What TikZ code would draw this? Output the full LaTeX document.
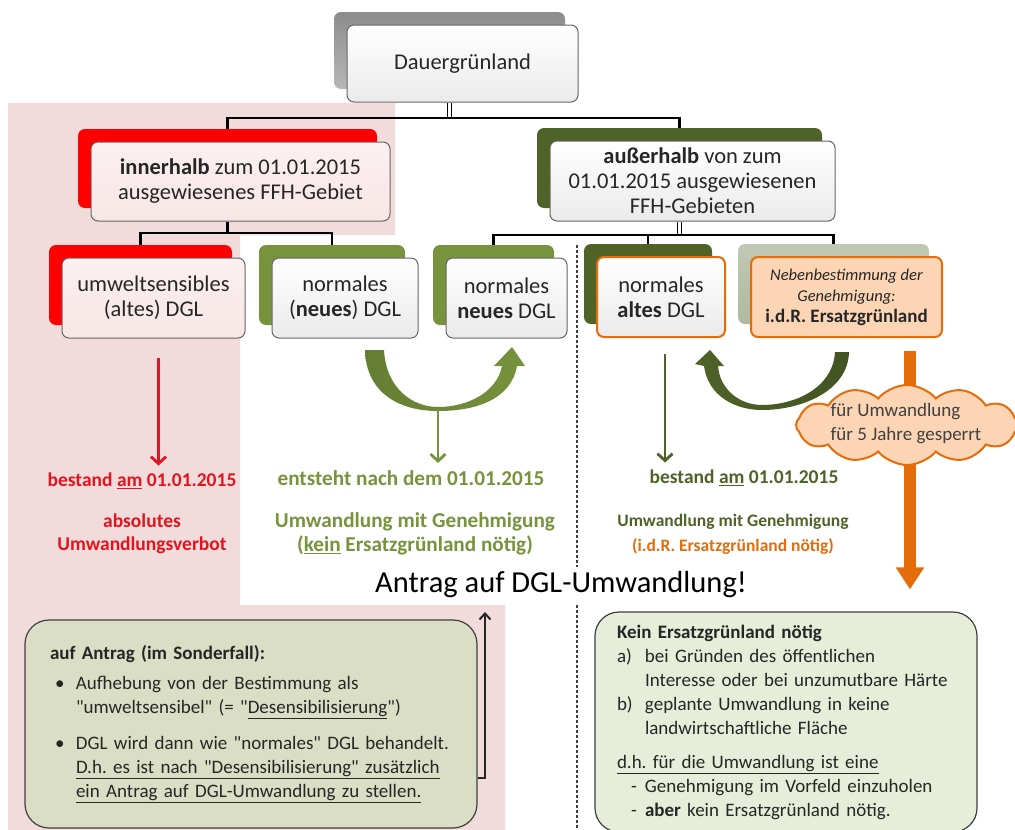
\documentclass[tikz,border=0pt]{standalone}
\usepackage{fontspec}
\setmainfont{Carlito}[Ligatures=TeXOff]
\usepackage{tikz}
\usetikzlibrary{arrows.meta,positioning,shapes.symbols}

\definecolor{pinkbg}{HTML}{F2DCDB}
\definecolor{frontpink}{HTML}{F8E6E6}
\definecolor{redC}{HTML}{FF0000}
\definecolor{redtext}{HTML}{E3141E}
\definecolor{oliveD}{HTML}{4F6228}
\definecolor{oliveL}{HTML}{77933C}
\definecolor{greyG}{HTML}{B1B9A0}
\definecolor{orangeC}{HTML}{E46C0A}
\definecolor{orangeL}{HTML}{FCD5B5}
\definecolor{noteL}{HTML}{D9DEC4}
\definecolor{noteR}{HTML}{E6EDD9}

\newcommand{\boxfont}{\fontsize{22.5}{25}\selectfont}
\newcommand{\lblfont}{\fontsize{19.5}{23}\selectfont}
\newcommand{\glblfont}{\fontsize{21.2}{24}\selectfont}
\newcommand{\rlblfont}{\fontsize{17.5}{23}\selectfont}
\newcommand{\nebenfont}{\fontsize{16.5}{21}\selectfont}
\newcommand{\notefont}{\fontsize{19}{24}\selectfont}
\newcommand{\cloudfont}{\fontsize{19}{24}\selectfont}
\newcommand{\antragfont}{\fontsize{30.5}{34}\selectfont}
\frenchspacing

\begin{document}
\begin{tikzpicture}[x=1pt, y=-1pt,
    sz/.style 2 args={minimum width=#1pt, minimum height=#2pt},
    backbox/.style={rounded corners=7pt, inner sep=0pt},
    frontbox/.style={rounded corners=7pt, draw=black!60, line width=1pt, top color=white, bottom color=black!8, align=center, inner sep=0pt, font=\boxfont, text=black!85},
    pinkbox/.style={frontbox, top color=white!40!frontpink, bottom color=frontpink},
    conn/.style={line width=2.6pt, draw=black},
    stub/.style={line width=1.3pt, draw=black, double=white, double distance=2.2pt, shorten >=1.3pt},
    note/.style={rounded corners=24pt, draw=black!75, line width=1.2pt, align=left, inner sep=0pt, font=\notefont, text=black!85},
    lbl/.style={font=\lblfont\bfseries, align=center},
    thinarr/.style={line width=2.8pt, -{Straight Barb[length=7pt, width=15pt]}},
    orangearr/.style={line width=12pt, draw=orangeC, -{Triangle[length=22pt, width=27pt]}},
    backarr/.style={line width=2pt, draw=black!85, -{Straight Barb[length=6pt, width=11pt]}}
]
\useasboundingbox (0,0) rectangle (1015,830);
\clip (0,0) rectangle (1015,830);
\fill[white] (0,0) rectangle (1015,830);
\fill[pinkbg] (8,103) -| (395,235) -| (240,605) -| (505,830) -- (8,830) -- cycle;

\node[backbox, top color=black!45, bottom color=black!28, sz={231}{77}] (dauerS) at (449.5,50.5) {};
\node[frontbox, sz={231}{77}] (dauer) at ([xshift=13pt,yshift=-13pt]dauerS.center) {Dauergrünland};

\node[backbox, fill=redC, sz={299}{79}] (innerS) at (227.5,168.5) {};
\node[pinkbox, sz={299}{79}] (inner) at ([xshift=13pt,yshift=-13pt]innerS.center) {\textbf{innerhalb} zum 01.01.2015\\ausgewiesenes FFH-Gebiet};

\node[backbox, fill=oliveD, sz={285}{80}] (aussenS) at (679.5,168) {};
\node[frontbox, sz={285}{80}] (aussen) at ([xshift=13pt,yshift=-13pt]aussenS.center) {\textbf{außerhalb} von zum\\01.01.2015 ausgewiesenen\\FFH-Gebieten};

\node[backbox, fill=redC, sz={183}{80}] (umweltS) at (140.5,285) {};
\node[pinkbox, sz={183}{80}] (umwelt) at ([xshift=13pt,yshift=-13pt]umweltS.center) {umweltsensibles\\(altes) DGL};

\node[backbox, fill=oliveL, sz={146}{80}] (neuesAS) at (332,285) {};
\node[frontbox, sz={146}{80}] (neuesA) at ([xshift=13pt,yshift=-13pt]neuesAS.center) {normales\\(\textbf{neues}) DGL};

\node[backbox, fill=oliveL, sz={121}{80}] (neuesBS) at (493.5,285) {};
\node[frontbox, sz={121}{80}] (neuesB) at ([xshift=13pt,yshift=-13pt]neuesBS.center) {normales\\\textbf{neues} DGL};

\node[backbox, fill=oliveD, sz={128}{80}] (altesS) at (648,284) {};
\node[frontbox, draw=orangeC, line width=2pt, sz={128}{80}] (altes) at ([xshift=13pt,yshift=-13pt]altesS.center) {normales\\\textbf{altes} DGL};

\node[backbox, top color=greyG!80, bottom color=greyG, sz={191}{80}] (nebenS) at (833.5,284) {};
\node[frontbox, fill=orangeL, top color=orangeL, bottom color=orangeL, draw=orangeC, line width=2pt, font=\nebenfont, sz={191}{80}] (neben) at ([xshift=13pt,yshift=-13pt]nebenS.center) {\textit{Nebenbestimmung der}\\\textit{Genehmigung:}\\\fontsize{19}{21}\selectfont\textbf{i.d.R. Ersatzgrünland}};

\coordinate (barA) at (0,118);
\coordinate (barB) at (0,233);
\coordinate (barC) at (0,235);
\draw[conn] (innerS.north) |- (barA -| dauerS.south) -| (aussenS.north);
\draw[stub] (dauer.south -| dauerS.south) -- (barA -| dauerS.south);
\draw[conn] (umweltS.north) |- (barB -| innerS.south) -| (neuesAS.north);
\draw[conn] (inner.south -| innerS.south) -- (barB -| innerS.south);
\draw[conn] (neuesBS.north) |- (barC -| aussenS.south) -| (nebenS.north);
\draw[conn] (altesS.north) -- (altesS.north |- barC);
\draw[stub] (aussen.south -| aussenS.south) -- (barC -| aussenS.south);

\draw[black!75, line width=1.6pt, dash pattern=on 3pt off 2pt] (577,245) -- (577,830);

\node[lbl, text=redtext] (bestandL) at (142,481) {bestand \underline{am} 01.01.2015};
\node[lbl, text=redtext] (verbot) at (142,534) {absolutes\\Umwandlungsverbot};
\node[lbl, font=\glblfont\bfseries, text=oliveL] (entsteht) at (411,478) {entsteht nach dem 01.01.2015};
\node[lbl, font=\glblfont\bfseries, text=oliveL] (ohneErsatz) at (415,534) {Umwandlung mit Genehmigung\\(\underline{kein} Ersatzgrünland nötig)};
\node[lbl, text=oliveD] (bestandR) at (744,478) {bestand \underline{am} 01.01.2015};
\node[lbl, font=\rlblfont\bfseries, text=oliveD] (mitGen) at (733,522) {Umwandlung mit Genehmigung};
\node[lbl, font=\rlblfont\bfseries, text=orangeC] (mitErsatz) at (733,546) {(i.d.R. Ersatzgrünland nötig)};

\draw[thinarr, draw=redtext, shorten <=19pt, shorten >=4pt] ([xshift=5pt]umwelt.south) -- ([xshift=5pt]umwelt.south |- bestandL.north);

\shade[left color=oliveL!55!oliveD, right color=oliveL] (365,350) -- (384,350) .. controls (386,388) and (412,407) .. (438,407) .. controls (468,407) and (497,392) .. (502,366) -- (494,366) -- (512,347) -- (525,366) -- (517,366) .. controls (511,400) and (475,411) .. (438,411) .. controls (398,411) and (366,392) .. (365,350) -- cycle;
\coordinate (uA) at (438,409);
\draw[thinarr, draw=oliveL, shorten >=4pt] (uA) -- (uA |- entsteht.north);

\shade[left color=oliveD, right color=oliveD!85!black] (849,352) -- (835,352) .. controls (833,388) and (795,405) .. (762,405) .. controls (740,405) and (720,390) .. (718,366) -- (724,366) -- (710,350) -- (695,364) -- (704,366) .. controls (708,396) and (735,410) .. (762,410) .. controls (800,410) and (848,392) .. (849,352) -- cycle;
\draw[thinarr, draw=oliveD, shorten <=16pt, shorten >=4pt] ([xshift=4pt]altes.south) -- ([xshift=4pt]altes.south |- bestandR.north);

\node[note, fill=noteL, sz={452}{208}, text width=402pt] (sonder) at (251,724) {\textbf{auf Antrag (im Sonderfall):}\\[6pt]
\makebox[26pt][l]{\hspace{5pt}\textbullet}Aufhebung von der Bestimmung als\\
\hspace*{26pt}"umweltsensibel" (= "\underline{Desensibilisierung}")\\[12pt]
\makebox[26pt][l]{\hspace{5pt}\textbullet}DGL wird dann wie "normales" DGL behandelt.\\
\hspace*{26pt}\underline{D.h. es ist nach "Desensibilisierung" zusätzlich}\\
\hspace*{26pt}\underline{ein Antrag auf DGL-Umwandlung zu stellen.}};

\node[note, fill=noteR, sz={382}{220}, text width=338pt] (kein) at (786,722) {\textbf{Kein Ersatzgrünland nötig}\\
\makebox[28pt][l]{a)}bei Gründen des öffentlichen\\
\hspace*{28pt}Interesse oder bei unzumutbare Härte\\
\makebox[28pt][l]{b)}geplante Umwandlung in keine\\
\hspace*{28pt}landwirtschaftliche Fläche\\[10pt]
\underline{d.h. für die Umwandlung ist eine}\\
\hspace*{14pt}\makebox[14pt][l]{-}Genehmigung im Vorfeld einzuholen\\
\hspace*{14pt}\makebox[14pt][l]{-}\textbf{aber} kein Ersatzgrünland nötig.};

\draw[orangearr, shorten <=13pt, shorten >=22pt] ([xshift=63.5pt]neben.south) -- ([xshift=63.5pt]neben.south |- kein.north);
\node[cloud, cloud puffs=12, cloud puff arc=100, cloud ignores aspect, draw=orangeC, line width=2pt, fill=orangeL, inner sep=0pt, minimum width=222pt, minimum height=80pt] (sperre) at (907,425) {};
\node[align=left, font=\cloudfont, text=black!75] (sperreTxt) at (906,424) {für Umwandlung\\für 5 Jahre gesperrt};

\node[font=\antragfont, fill=white, inner xsep=3pt, inner ysep=5pt] (antrag) at (561,585) {Antrag auf DGL-Umwandlung!};
\coordinate (antragpt) at (485,612);
\draw[backarr] ([yshift=-54pt]sonder.east) -| (antragpt);
\end{tikzpicture}
\end{document}
